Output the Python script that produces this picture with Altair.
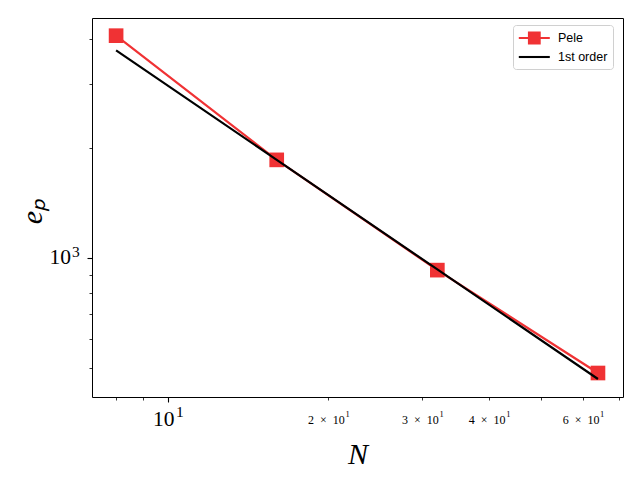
import altair as alt
import pandas as pd

# ---- data ----
N_vals = [8, 16, 32, 64]
pele_vals = [4080, 1860, 926, 483]
first_order_vals = [3720, 1860, 930, 465]
series_names = ["Pele", "1st order"]

x_ticks = [8, 9, 10, 20, 30, 40, 50, 60, 70]
y_ticks = [500, 600, 700, 800, 900, 1000, 2000, 3000, 4000]
x_labelled = [10, 20, 30, 40, 60]

RED = "#F03234"
SERIF = "Liberation Serif"
SP = "\u2002"  # en space, closer to mathtext spacing around ×

rows = []
for n, v in zip(N_vals, pele_vals):
    rows.append({"N": n, "e": v, "series": "Pele"})
for n, v in zip(N_vals, first_order_vals):
    rows.append({"N": n, "e": v, "series": "1st order"})
df = pd.DataFrame(rows)

# mantissa part of the x tick labels
x_label_expr = (
    "datum.value == 10 ? '10' : "
    f"datum.value == 20 ? '2{SP}×{SP}10' : "
    f"datum.value == 30 ? '3{SP}×{SP}10' : "
    f"datum.value == 40 ? '4{SP}×{SP}10' : "
    f"datum.value == 60 ? '6{SP}×{SP}10' : ''"
)
IS10 = "datum.value == 10"

x_axis = alt.Axis(
    orient="bottom",
    values=x_ticks,
    labelExpr=x_label_expr,
    labelFont=SERIF,
    labelFontSize={"condition": {"test": IS10, "value": 21.5}, "value": 12},
    labelAlign="right",
    labelOffset={"condition": {"test": IS10, "value": 6.3}, "value": 15.9},
    labelPadding=23.7,
    labelBaseline="alphabetic",
    labelColor="black",
    labelOverlap=False,
    labelFlush=False,
    labelBound=False,
    tickSize={"condition": {"test": IS10, "value": 5}, "value": 3},
    tickWidth={"condition": {"test": IS10, "value": 1.1}, "value": 0.8},
    tickColor="black",
    grid=False,
    domain=False,
    title="N",
    titleFont=SERIF,
    titleFontStyle="italic",
    titleFontWeight="normal",
    titleFontSize=30,
    titleColor="black",
    titleBaseline="alphabetic",
    titleY=66,
)

# exponent part of the x tick labels (superscript)
x_sup_axis = alt.Axis(
    orient="bottom",
    values=x_labelled,
    labelExpr="'1'",
    labelFont=SERIF,
    labelFontSize={"condition": {"test": IS10, "value": 15.5}, "value": 8.5},
    labelAlign="left",
    labelOffset={"condition": {"test": IS10, "value": 7.7}, "value": 16.6},
    labelPadding=19.7,
    labelBaseline="alphabetic",
    labelColor="black",
    labelOverlap=False,
    labelFlush=False,
    labelBound=False,
    ticks=False,
    tickSize=0,
    grid=False,
    domain=False,
    title=None,
)

y_axis = alt.Axis(
    orient="left",
    values=y_ticks,
    labelExpr="datum.value == 1000 ? '10' : ''",
    labelFont=SERIF,
    labelFontSize=21.5,
    labelPadding=16.5,
    labelBaseline="middle",
    labelColor="black",
    labelOverlap=False,
    labelFlush=False,
    labelBound=False,
    tickSize={"condition": {"test": "datum.value == 1000", "value": 5}, "value": 3},
    tickWidth={"condition": {"test": "datum.value == 1000", "value": 1.1}, "value": 0.8},
    tickColor="black",
    grid=False,
    domain=False,
    title="eₚ",
    titleFont=SERIF,
    titleFontStyle="italic",
    titleFontWeight="normal",
    titleFontSize=30,
    titleColor="black",
    titleBaseline="middle",
    titleX=-60,
    titleY=193,
    titleAngle=270,
)

y_sup_axis = alt.Axis(
    orient="left",
    values=[1000],
    labelExpr="'3'",
    labelFont=SERIF,
    labelFontSize=15.5,
    labelPadding=12.8,
    labelOffset=-6.5,
    labelBaseline="middle",
    labelColor="black",
    labelOverlap=False,
    labelFlush=False,
    labelBound=False,
    ticks=False,
    tickSize=0,
    grid=False,
    domain=False,
    title=None,
)

xs = alt.Scale(type="log", domain=[7.21, 71.3], nice=False)
ys = alt.Scale(type="log", domain=[415, 4563], nice=False)

X = alt.X("N:Q", scale=xs, axis=x_axis)
Y = alt.Y("e:Q", scale=ys, axis=y_axis)

base = alt.Chart(df)

red_line = base.transform_filter(alt.datum.series == "Pele").mark_line(
    color=RED, strokeWidth=2.2
).encode(x=X, y=Y)

red_pts = base.transform_filter(alt.datum.series == "Pele").mark_point(
    shape="square", filled=True, size=215, color=RED, opacity=1
).encode(x=X, y=Y)

black_line = base.transform_filter(alt.datum.series == "1st order").mark_line(
    color="black", strokeWidth=2.2
).encode(x=X, y=Y)

path_pele = "M-0.9,-0.13H2.975V0.13H-0.9Z M0.24,-0.8H1.84V0.8H0.24Z"
path_first = "M-0.9,-0.13H2.975V0.13H-0.9Z"

legend = alt.Legend(
    title=None,
    orient="none",
    legendX=421,
    legendY=7,
    padding=5,
    rowPadding=4,
    labelOffset=24,
    symbolSize=256,
    symbolStrokeWidth=0,
    labelFont="Liberation Sans",
    labelFontSize=12.5,
    labelColor="black",
    fillColor="white",
    strokeColor="#d0d0d0",
    cornerRadius=3,
)

# empty-data layer: carries the legend and the superscript axes
legend_layer = base.transform_filter("false").mark_point(
    filled=True, opacity=1, size=256
).encode(
    x=alt.X("N:Q", scale=xs, axis=x_sup_axis),
    y=alt.Y("e:Q", scale=ys, axis=y_sup_axis),
    color=alt.Color(
        "series:N",
        scale=alt.Scale(domain=series_names, range=[RED, "black"]),
        legend=legend,
    ),
    shape=alt.Shape(
        "series:N",
        scale=alt.Scale(domain=series_names, range=[path_pele, path_first]),
        legend=legend,
    ),
)

data_layers = alt.layer(red_line, red_pts, black_line)

chart = alt.layer(data_layers, legend_layer).resolve_axis(
    x="independent", y="independent"
).properties(
    width=531,
    height=379,
    autosize=alt.AutoSizeParams(type="none"),
    padding={"left": 84, "top": 10, "right": 5, "bottom": 76},
    background="white",
).configure_view(stroke="black", strokeWidth=1)

chart.save("out.html", embed_options={"renderer": "svg", "actions": False})
